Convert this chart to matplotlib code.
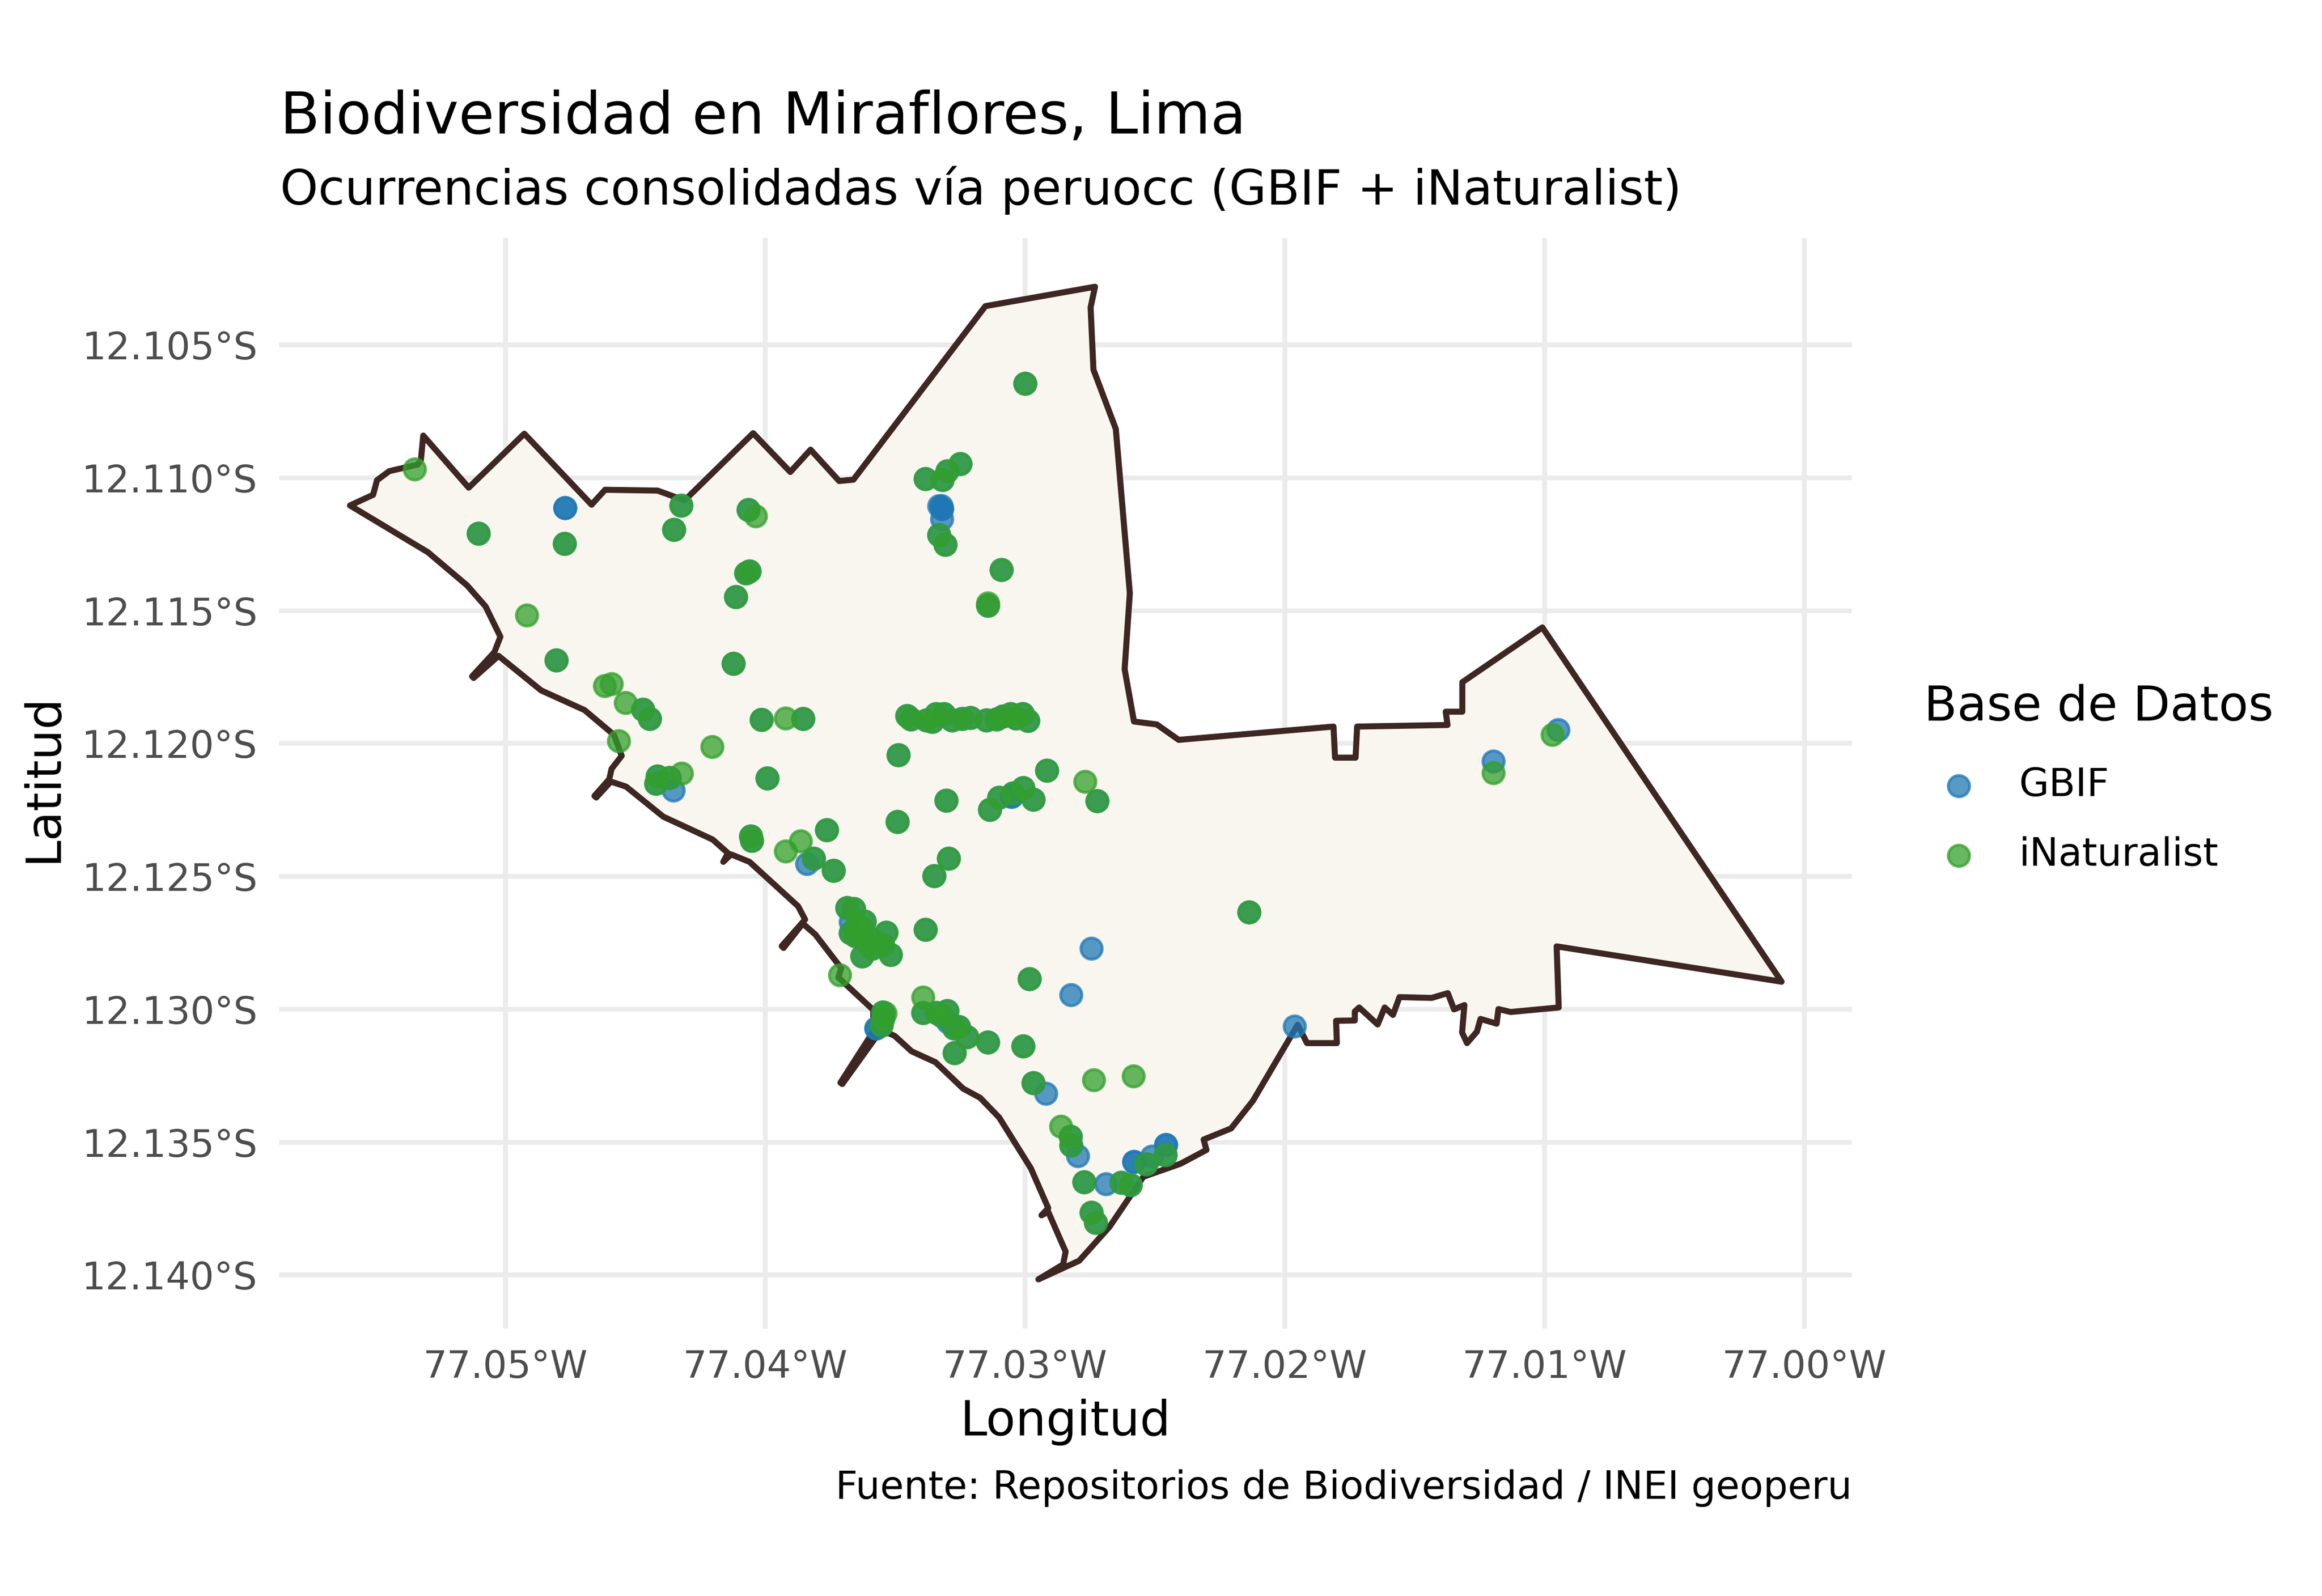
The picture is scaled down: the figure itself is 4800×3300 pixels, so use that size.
import matplotlib
matplotlib.use('Agg')
import matplotlib.pyplot as plt
from matplotlib.ticker import FixedLocator, FixedFormatter

# district boundary, clockwise from the western tip
boundary_lon = [-77.05598, -77.05509, -77.05494, -77.05447, -77.05337, -77.05325, -77.05316, -77.05141,
                -77.04927, -77.04668, -77.04616, -77.04414, -77.04310, -77.04046, -77.03903, -77.03825,
                -77.03715, -77.03660, -77.03152, -77.02730, -77.02747, -77.02736, -77.02650, -77.02596,
                -77.02616, -77.02580, -77.02492, -77.02408, -77.01812, -77.01806, -77.01727, -77.01721,
                -77.01373, -77.01380, -77.01316, -77.01316, -77.01008, -77.00087, -77.00953, -77.00945,
                -77.01130, -77.01177, -77.01184, -77.01246, -77.01260, -77.01298, -77.01317, -77.01308,
                -77.01348, -77.01372, -77.01434, -77.01558, -77.01583, -77.01615, -77.01642, -77.01713,
                -77.01730, -77.01730, -77.01802, -77.01799, -77.01914, -77.01950, -77.02122, -77.02206,
                -77.02312, -77.02301, -77.02401, -77.02544, -77.02674, -77.02791, -77.02948, -77.02853,
                -77.02843, -77.02910, -77.02936, -77.02910, -77.02977, -77.03099, -77.03172, -77.03238,
                -77.03344, -77.03436, -77.03501, -77.03540, -77.03564, -77.03703, -77.03710, -77.03582,
                -77.03584, -77.03718, -77.03707, -77.03807, -77.03855, -77.03929, -77.03936, -77.03846,
                -77.03873, -77.04060, -77.04131, -77.04161, -77.04143, -77.04202, -77.04392, -77.04535,
                -77.04594, -77.04650, -77.04657, -77.04600, -77.04591, -77.04552, -77.04582, -77.04695,
                -77.04862, -77.05026, -77.05122, -77.05128, -77.05042, -77.05019, -77.05076, -77.05147,
                -77.05298]
boundary_lat = [-12.11104, -12.11064, -12.11009, -12.10975, -12.10950, -12.10932, -12.10841, -12.11037,
                -12.10834, -12.11101, -12.11045, -12.11048, -12.11085, -12.10832, -12.10978, -12.10894,
                -12.11012, -12.11007, -12.10354, -12.10281, -12.10359, -12.10593, -12.10816, -12.11434,
                -12.11720, -12.11917, -12.11928, -12.11986, -12.11936, -12.12053, -12.12053, -12.11936,
                -12.11930, -12.11880, -12.11880, -12.11769, -12.11563, -12.12896, -12.12763, -12.12993,
                -12.13010, -12.12999, -12.13054, -12.13036, -12.13084, -12.13127, -12.13087, -12.12984,
                -12.13000, -12.12939, -12.12957, -12.12954, -12.13021, -12.12993, -12.13057, -12.12993,
                -12.13008, -12.13042, -12.13043, -12.13127, -12.13127, -12.13058, -12.13344, -12.13448,
                -12.13490, -12.13529, -12.13581, -12.13630, -12.13818, -12.13946, -12.14016, -12.13960,
                -12.13912, -12.13762, -12.13775, -12.13748, -12.13598, -12.13407, -12.13333, -12.13298,
                -12.13199, -12.13158, -12.13100, -12.13083, -12.13092, -12.13281, -12.13276, -12.13081,
                -12.13002, -12.12880, -12.12845, -12.12718, -12.12677, -12.12769, -12.12762, -12.12662,
                -12.12612, -12.12445, -12.12417, -12.12445, -12.12412, -12.12361, -12.12275, -12.12162,
                -12.12143, -12.12203, -12.12197, -12.12134, -12.12095, -12.12046, -12.11967, -12.11874,
                -12.11800, -12.11670, -12.11753, -12.11747, -12.11656, -12.11598, -12.11484, -12.11405,
                -12.11280]

# records found in both databases
both_lon = [-77.05104, -77.04773, -77.04324, -77.04351, -77.04064, -77.04074, -77.04060, -77.04112,
            -77.04803, -77.04122, -77.04470, -77.04444, -77.04015, -77.03854, -77.03487, -77.03992,
            -77.04414, -77.04368, -77.04420, -77.03303, -77.03490, -77.03763, -77.04056, -77.04051,
            -77.03813, -77.03737, -77.03294, -77.03350, -77.03382,
            -77.03685, -77.03659, -77.03618, -77.03534, -77.03653, -77.03629, -77.03546, -77.03627,
            -77.03588, -77.03517, -77.03671, -77.03647, -77.03612, -77.03594,
            -77.03546, -77.03552, -77.03546, -77.03392, -77.03341, -77.03299, -77.03321, -77.03255,
            -77.03273, -77.03222, -77.03142, -77.03271, -77.03006, -77.02982, -77.02968, -77.02824,
            -77.02822, -77.02772, -77.02629, -77.02594, -77.02534, -77.02460, -77.02745, -77.02728,
            -77.03248, -77.03299, -77.03317, -77.03382, -77.03331, -77.03306, -77.03091, -77.03143,
            -77.03454, -77.03438, -77.03379, -77.03356, -77.03342, -77.03313, -77.03281, -77.03242,
            -77.03210, -77.03149, -77.03109, -77.03085, -77.03056, -77.03034, -77.03008, -77.02989,
            -77.02915, -77.02722, -77.02968, -77.03007, -77.03045, -77.03099, -77.03135,
            -77.02138, -77.02999]
both_lat = [-12.11210, -12.11248, -12.11104, -12.11194, -12.11120, -12.11359, -12.11352, -12.11447,
            -12.11686, -12.11698, -12.11872, -12.11907, -12.11910, -12.11906, -12.12042, -12.12130,
            -12.12122, -12.12128, -12.12151, -12.12213, -12.12294, -12.12325, -12.12348, -12.12365,
            -12.12433, -12.12478, -12.12433, -12.12498, -12.12699,
            -12.12617, -12.12622, -12.12669, -12.12710, -12.12723, -12.12694, -12.12758, -12.12799,
            -12.12770, -12.12795, -12.12712, -12.12683, -12.12747, -12.12735,
            -12.13011, -12.13060, -12.13037, -12.13013, -12.13013, -12.13005, -12.13023, -12.13066,
            -12.13071, -12.13104, -12.13124, -12.13164, -12.13138, -12.12886, -12.13276, -12.13479,
            -12.13512, -12.13649, -12.13651, -12.13661, -12.13582, -12.13547, -12.13764, -12.13802,
            -12.10947, -12.10975, -12.11007, -12.11003, -12.11215, -12.11252, -12.11345, -12.11481,
            -12.11896, -12.11908, -12.11912, -12.11917, -12.11889, -12.11889, -12.11912, -12.11906,
            -12.11903, -12.11911, -12.11908, -12.11897, -12.11889, -12.11905, -12.11889, -12.11914,
            -12.12101, -12.12216, -12.12211, -12.12166, -12.12186, -12.12203, -12.12249,
            -12.12635, -12.10646]

gbif_only_lon = [-77.04770, -77.04770, -77.04354, -77.03840, -77.03671, -77.03572, -77.03572, -77.03297,
                 -77.02822, -77.02745, -77.02920, -77.02796, -77.02689, -77.02581, -77.02581, -77.02511,
                 -77.02457, -77.02457, -77.03331, -77.03322, -77.03320, -77.03320, -77.03320, -77.03051,
                 -77.03051, -77.01962, -77.00947, -77.01197]
gbif_only_lat = [-12.11113, -12.11113, -12.12176, -12.12453, -12.12671, -12.13071, -12.13071, -12.13048,
                 -12.12945, -12.12770, -12.13317, -12.13551, -12.13657, -12.13574, -12.13574, -12.13553,
                 -12.13510, -12.13510, -12.11105, -12.11105, -12.11116, -12.11116, -12.11154, -12.12200,
                 -12.12200, -12.13064, -12.11949, -12.12066]

inat_only_lon = [-77.05349, -77.04918, -77.04036, -77.04618, -77.04592, -77.04538, -77.04563, -77.03921,
                 -77.04205, -77.04321, -77.03864, -77.03921, -77.03713, -77.03392, -77.02861, -77.02735,
                 -77.02582, -77.02769, -77.03142, -77.00969, -77.01197, -77.03538]
inat_only_lat = [-12.10967, -12.11517, -12.11143, -12.11782, -12.11776, -12.11847, -12.11990, -12.11904,
                 -12.12011, -12.12112, -12.12367, -12.12405, -12.12871, -12.12955, -12.13440, -12.13266,
                 -12.13252, -12.12143, -12.11471, -12.11966, -12.12110, -12.13015]

gbif_lon = both_lon + gbif_only_lon
gbif_lat = both_lat + gbif_only_lat
inat_lon = both_lon + inat_only_lon
inat_lat = both_lat + inat_only_lat

lon_ticks = [-77.05, -77.04, -77.03, -77.02, -77.01, -77.00]
lon_labels = ['77.05°W', '77.04°W', '77.03°W', '77.02°W', '77.01°W', '77.00°W']
lat_ticks = [-12.105, -12.110, -12.115, -12.120, -12.125, -12.130, -12.135, -12.140]
lat_labels = ['12.105°S', '12.110°S', '12.115°S', '12.120°S', '12.125°S', '12.130°S', '12.135°S', '12.140°S']

W, H = 4800, 3300


def px(x, y):
    return x / W, 1 - y / H


def main():
    plt.rcParams['font.family'] = 'DejaVu Sans'
    fig = plt.figure(figsize=(8, 5.5), dpi=600)
    ax = fig.add_axes([577 / W, 1 - 2747 / H, (3828 - 577) / W, (2747 - 492) / H])
    ax.set_xlim(-77.058708, -76.998168)
    ax.set_ylim(-12.142011, -12.100974)
    for s in ax.spines.values():
        s.set_visible(False)

    ax.xaxis.set_major_locator(FixedLocator(lon_ticks))
    ax.xaxis.set_major_formatter(FixedFormatter(lon_labels))
    ax.yaxis.set_major_locator(FixedLocator(lat_ticks))
    ax.yaxis.set_major_formatter(FixedFormatter(lat_labels))
    ax.grid(True, color='#EBEBEB', linewidth=1.2, solid_capstyle='butt')
    ax.set_axisbelow(True)
    ax.tick_params(length=0, labelsize=9.4, labelcolor='#4D4D4D')
    ax.tick_params(axis='x', pad=5.1)
    ax.tick_params(axis='y', pad=5.4)

    ax.fill(boundary_lon, boundary_lat, facecolor='#F9F6F0', edgecolor='#3E2723',
            linewidth=1.5, joinstyle='round', zorder=2)

    g = ax.scatter(gbif_lon, gbif_lat, s=28, color='#1F78B4', alpha=0.75, linewidths=0.7,
                   label='GBIF', zorder=3)
    i = ax.scatter(inat_lon, inat_lat, s=28, color='#33A02C', alpha=0.75, linewidths=0.7,
                   label='iNaturalist', zorder=4)

    fig.text(*px(579, 276), 'Biodiversidad en Miraflores, Lima', fontsize=14.4, color='black')
    fig.text(*px(579, 423), 'Ocurrencias consolidadas vía peruocc (GBIF + iNaturalist)', fontsize=12, color='black')
    fig.text(*px(2202, 2968), 'Longitud', fontsize=12, ha='center')
    fig.text(*px(89, 1609), 'Latitud', fontsize=12, rotation=90, ha='center', va='center')
    fig.text(*px(3828, 3099), 'Fuente: Repositorios de Biodiversidad / INEI geoperu', fontsize=9.6, ha='right')

    leg = fig.legend(handles=[g, i], title='Base de Datos', loc='upper left',
                     bbox_to_anchor=px(3977, 1413), borderaxespad=0, borderpad=0,
                     frameon=False, fontsize=9.6, title_fontsize=12, alignment='left',
                     handlelength=1.8, handletextpad=0.66, labelspacing=0.82)
    leg._legend_box.sep = 9

    fig.savefig('out.png', dpi=600)


if __name__ == '__main__':
    main()
